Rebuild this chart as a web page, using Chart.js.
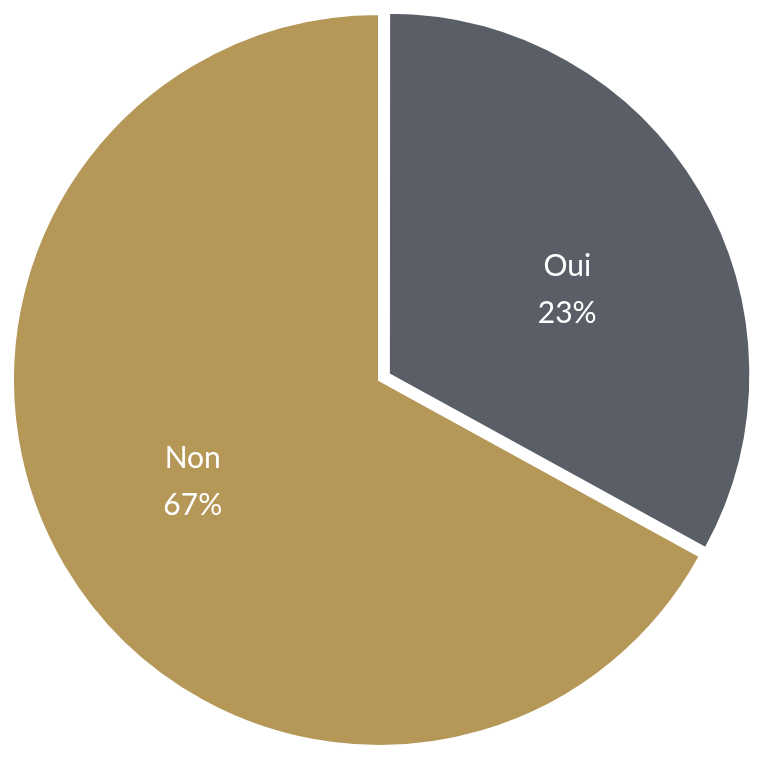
<!DOCTYPE html>
<html>
<head>
<meta charset="utf-8">
<script src="https://cdn.jsdelivr.net/npm/chart.js@4"></script>
<style>
html,body{margin:0;padding:0;background:#fff;font-family:Lato,sans-serif;}
#wrap{width:765px;height:759px;position:relative;}
</style>
</head>
<body>
<div id="wrap"><canvas id="c" width="765" height="759"></canvas></div>
<script>
const categories = ["Oui", "Non"];
const values = [33, 67];
const valueLabels = ["23%", "67%"];
const colors = ["#5a5e66", "#b59758"];

const shrinkPlugin = {
  id: 'shrinkExploded',
  beforeDatasetsDraw(chart) {
    const meta = chart.getDatasetMeta(0);
    const arc = meta.data[0];
    if (arc) arc.outerRadius = chart.options.radius - 6;
  }
};

const labelPlugin = {
  id: 'sliceLabels',
  afterDatasetsDraw(chart) {
    const ctx = chart.ctx;
    const meta = chart.getDatasetMeta(0);
    ctx.save();
    ctx.fillStyle = '#ffffff';
    ctx.font = '30px Lato, "Open Sans", sans-serif';
    ctx.textAlign = 'center';
    ctx.textBaseline = 'middle';
    meta.data.forEach((arc, i) => {
      const p = arc.getProps(['x','y','startAngle','endAngle'], true);
      const mid = (p.startAngle + p.endAngle) / 2 + 0.06;
      const d = 366 * 0.575;
      const cx = p.x + Math.cos(mid) * d + 1;
      const cy = p.y + Math.sin(mid) * d + 6;
      ctx.fillText(categories[i], cx, cy - 23.5);
      ctx.fillText(valueLabels[i], cx, cy + 23.5);
    });
    ctx.restore();
  }
};

function draw() {
  new Chart(document.getElementById('c'), {
    type: 'pie',
    data: {
      labels: categories,
      datasets: [{
        data: values,
        backgroundColor: colors,
        borderColor: '#ffffff',
        borderWidth: 2,
        offset: [46, 0]
      }]
    },
    options: {
      responsive: false,
      animation: false,
      radius: 366,
      layout: { padding: { left: 0, right: 7, top: 1, bottom: 0 } },
      plugins: { legend: { display: false }, tooltip: { enabled: false } }
    },
    plugins: [shrinkPlugin, labelPlugin]
  });
}
if (document.fonts && document.fonts.load) {
  document.fonts.load('30px Lato').then(draw, draw);
} else {
  draw();
}
</script>
</body>
</html>
